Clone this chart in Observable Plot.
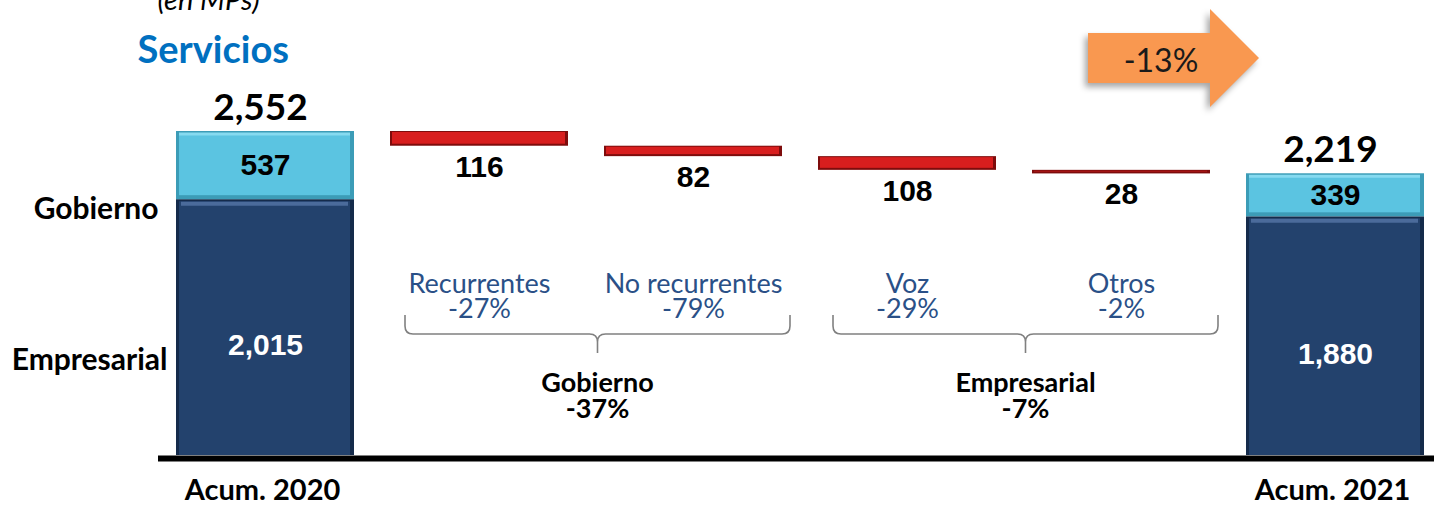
<!DOCTYPE html>
<html><head><meta charset="utf-8">
<script src="https://cdn.jsdelivr.net/npm/d3@7"></script>
<script src="https://cdn.jsdelivr.net/npm/@observablehq/plot@0.6"></script>
<style>
body{margin:0;background:#fff;}
#chart{width:1434px;height:505px;overflow:hidden;}
</style></head>
<body><div id="chart"></div>
<script>
const categories = ["Acum. 2020","Recurrentes","No recurrentes","Voz","Otros","Acum. 2021"];
const endpoints = ["Acum. 2020","Acum. 2021"];
const segmentNames = ["Gobierno","Empresarial"];
const empresarial = [2015, 1880];
const gobierno = [537, 339];
const totals = [2552, 2219];
const deltaCats = ["Recurrentes","No recurrentes","Voz","Otros"];
const deltas = [116, 82, 108, 28];
const deltaPct = ["-27%","-79%","-29%","-2%"];
const groupNames = ["Gobierno","Empresarial"];
const groupPct = ["-37%","-7%"];
const groupSpans = [["Recurrentes","No recurrentes"],["Voz","Otros"]];
const totalChange = "-13%";
const title = "Servicios";
const subtitle = "(en MPs)";

const fmt = d3.format(",");
const empRows = endpoints.map((c,i)=>({cat:c, y1:0, y2:empresarial[i], v:empresarial[i]}));
const gobRows = endpoints.map((c,i)=>({cat:c, y1:empresarial[i], y2:empresarial[i]+gobierno[i], v:gobierno[i]}));
let run = totals[0];
const stepRows = deltaCats.map((c,i)=>{const r={cat:c, y1:run, y2:run-deltas[i], v:deltas[i], pct:deltaPct[i]}; run -= deltas[i]; return r;});
const totalRows = endpoints.map((c,i)=>({cat:c, v:totals[i]}));

function bandInfo(x){
  return typeof x.bandwidth === "function" ? x.bandwidth() : (x(categories[1]) - x(categories[0])) * 0.83;
}

function braces(index, scales, values, dims){
  const x = scales.x; const bw = bandInfo(x);
  const g = d3.create("svg:g");
  groupSpans.forEach(([a,b],k)=>{
    const x0 = x(a) + 15, x1 = x(b) + bw + 8, cx = (x0+x1)/2;
    const yt = 315, ym = 334, yb = 353, r = 8;
    g.append("path")
      .attr("fill","none").attr("stroke","#808080").attr("stroke-width",1.6)
      .attr("d", `M${x0},${yt} L${x0},${ym-r} Q${x0},${ym} ${x0+r},${ym} L${cx-r},${ym} Q${cx},${ym} ${cx},${ym+r} L${cx},${yb} M${cx},${ym+r} Q${cx},${ym} ${cx+r},${ym} L${x1-r},${ym} Q${x1},${ym} ${x1},${ym-r} L${x1},${yt}`);
    const t = g.append("text").attr("text-anchor","middle").attr("font-size",27).attr("font-weight","bold").attr("fill","#000");
    t.append("tspan").attr("x",cx).attr("y",392).text(groupNames[k]);
    t.append("tspan").attr("x",cx).attr("y",418).text(groupPct[k]);
  });
  return g.node();
}

function arrow(index, scales, values, dims){
  const x = scales.x; const bw = bandInfo(x);
  const tip = x(categories[categories.length-1]) + bw/2 - 76;
  const left = tip - 171, neck = tip - 49;
  const g = d3.create("svg:g");
  g.append("path")
    .attr("d", `M${left},33 L${neck},33 L${neck},9 L${tip},58 L${neck},107 L${neck},83 L${left},83 Z`)
    .attr("fill","#F99850")
    .style("filter","drop-shadow(-3px 4px 3px rgba(0,0,0,0.35))");
  g.append("text").attr("x", left + 73).attr("y", 72).attr("text-anchor","middle")
    .attr("font-size",32).attr("fill","#1a1a1a").text(totalChange);
  return g.node();
}

const numFont = "'Liberation Sans', Arial, sans-serif";

const chart = Plot.plot({
  width: 1434, height: 505,
  marginLeft: 158, marginRight: 0, marginTop: 0, marginBottom: 50,
  x: {domain: categories, range: [157, 1442], paddingInner: 0.17, paddingOuter: 0.085, axis: null},
  y: {domain: [0, d3.max(totals)], range: [455, 131], axis: null},
  style: {fontFamily: "Lato, 'Open Sans', sans-serif", background: "white", overflow: "visible"},
  marks: [
    // stacked endpoint bars (bevelled)
    Plot.barY(empRows, {x:"cat", y1:"y1", y2:"y2", fill:"#152B4B"}),
    Plot.barY(empRows, {x:"cat", y1:"y1", y2:"y2", fill:"#23426D", insetLeft:3, insetRight:4, insetTop:2}),
    Plot.tickY(empRows, {x:"cat", y:"y2", stroke:"#4B6B9B", strokeWidth:4, dy:4, insetLeft:5, insetRight:6}),
    Plot.barY(gobRows, {x:"cat", y1:"y1", y2:"y2", fill:"#3C9CB7"}),
    Plot.barY(gobRows, {x:"cat", y1:"y1", y2:"y2", fill:"#5BC4E1", insetLeft:3, insetRight:4, insetTop:2, insetBottom:4}),
    Plot.tickY(gobRows, {x:"cat", y:"y2", stroke:"#86DAF0", strokeWidth:3, dy:2.5, insetLeft:3, insetRight:4}),
    // waterfall steps
    Plot.barY(stepRows, {x:"cat", y1:"y1", y2:"y2", fill:"#7E0C0C"}),
    Plot.barY(stepRows, {x:"cat", y1:"y1", y2:"y2", fill:"#D81E1E", insetLeft:2, insetRight:3, insetTop:1, insetBottom:2}),
    // baseline
    Plot.ruleY([0], {stroke:"#000", strokeWidth:6, dy:3}),
    // value labels
    Plot.text(totalRows, {x:"cat", y:"v", text:d=>fmt(d.v), lineAnchor:"bottom", dy:-12, dx:-5, fontSize:37, fontWeight:"bold", fill:"#000"}),
    Plot.text(gobRows, {x:"cat", y:d=>(d.y1+d.y2)/2, text:d=>fmt(d.v), lineAnchor:"middle", fontSize:30, fontWeight:"bold", fill:"#000", fontFamily:numFont}),
    Plot.text(empRows, {x:"cat", y:d=>(d.y1+d.y2)/2, text:d=>fmt(d.v), lineAnchor:"middle", dy:18, fontSize:30, fontWeight:"bold", fill:"#fff", fontFamily:numFont}),
    Plot.text(stepRows, {x:"cat", y:"y2", text:d=>fmt(d.v), lineAnchor:"top", dy:9, fontSize:30, fontWeight:"bold", fill:"#000", fontFamily:numFont}),
    // sub labels
    Plot.text(stepRows, {x:"cat", frameAnchor:"top", dy:274, lineAnchor:"top", lineHeight:0.95, text:d=>d.cat+"\n"+d.pct, fill:"#2A5087", fontSize:27}),
    // segment legend labels
    Plot.text([segmentNames[0]], {frameAnchor:"top-left", dy:218, dx:0, textAnchor:"end", lineAnchor:"bottom", fontSize:30, fontWeight:"bold", fill:"#000"}),
    Plot.text([segmentNames[1]], {frameAnchor:"top-left", dy:369, dx:9, textAnchor:"end", lineAnchor:"bottom", fontSize:30, fontWeight:"bold", fill:"#000"}),
    // category labels
    Plot.text(endpoints, {x:d=>d, frameAnchor:"bottom", lineAnchor:"top", dy:24, dx:-3, fontSize:29, fontWeight:"bold", fill:"#000"}),
    // title & subtitle
    Plot.text([title], {frameAnchor:"top-left", dx:-21, dy:62, textAnchor:"start", lineAnchor:"bottom", fontSize:38, fontWeight:"bold", fill:"#0070C0"}),
    Plot.text([subtitle], {frameAnchor:"top-left", dx:50, dy:9, textAnchor:"middle", lineAnchor:"bottom", fontSize:29, fontStyle:"italic", fill:"#000"}),
    braces,
    arrow
  ]
});
document.getElementById("chart").appendChild(chart);
</script>
</body></html>
